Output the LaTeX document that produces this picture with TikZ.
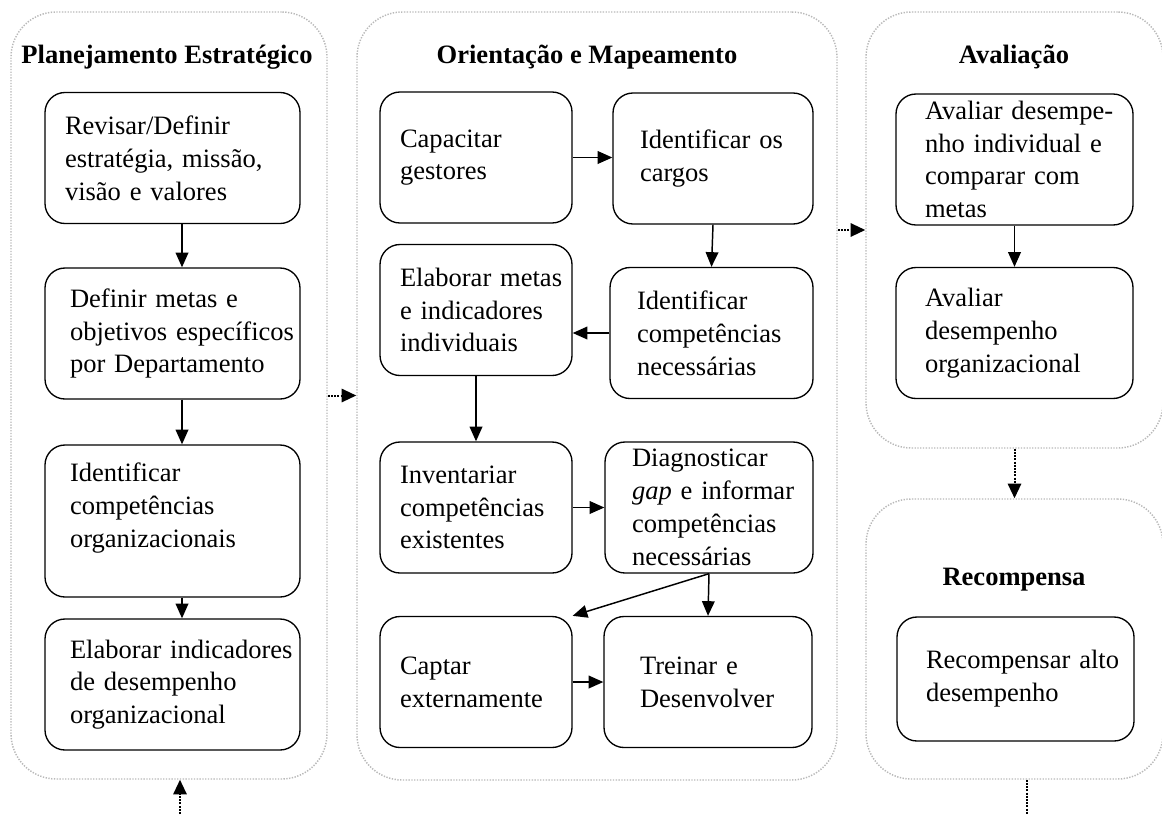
\documentclass[tikz,border=0pt]{standalone}
\usepackage{fontspec}
\setmainfont{Liberation Serif}
\usetikzlibrary{positioning}
\usetikzlibrary{arrows.meta}
\newcommand\eixoesq{182}
\tikzset{
    fase/.style = {draw=gray!55, line width=1.1pt, dash pattern=on 1pt off 1.1pt, rounded corners=34pt},
    caixa/.style = {draw, line width=1pt, rounded corners=15pt, align=left, inner ysep=2pt,
        font=\fontsize{19.9pt}{24.6pt}\selectfont, minimum height=98.25pt,
        execute at begin node={\hyphenpenalty=10000\exhyphenpenalty=10000}},
    esq/.style = {caixa, minimum width=191.25pt, text width=153.75pt, inner xsep=18.75pt},
    meio/.style = {caixa, minimum width=144pt, text width=114pt, inner xsep=15pt},
    meiodir/.style = {caixa, inner xsep=20.25pt},
    dir/.style = {caixa, minimum width=177.75pt, text width=134.25pt, inner xsep=21.75pt},
    titulo/.style = {anchor=base, font=\bfseries\fontsize{19.9pt}{24pt}\selectfont},
    seta/.style = {-{Triangle[length=11pt,width=9.5pt]}, line width=1.1pt},
    setapont/.style = {-{Triangle[length=11pt,width=10pt]}, line width=1.5pt, dash pattern=on 1.5pt off 0.9pt},
}
\begin{document}
\begin{tikzpicture}[x=0.75pt, y=-0.75pt]
    \useasboundingbox (0,0) rectangle (1162,814);
    % --- Fases
    \node[fase, minimum width=237pt, minimum height=575.25pt] (planej) at (169,395.5) {};
    \node[fase, minimum width=360pt, minimum height=576pt] (orient) at (597,396) {};
    \node[fase, minimum width=222.75pt, minimum height=327pt] (aval) at (1014.5,230) {};
    \node[fase, minimum width=222.75pt, minimum height=210pt] (recomp) at (1014.5,639) {};
    \node[titulo] (tplanej) at (167,63) {Planejamento Estratégico};
    \node[titulo] (torient) at (587,63) {Orientação e Mapeamento};
    \node[titulo] (taval) at (1014,63) {Avaliação};
    \node[titulo] (trecomp) at (1014,585) {Recompensa};
    % --- Planejamento
    \node[esq, text width=161.25pt, inner xsep=15pt] (revisar) at (172.5,158) {Revisar/Definir\\estratégia, missão,\\visão e valores};
    \node[esq] (metas) at (172.5,333.5) {Definir metas e\\objetivos~específicos\\por Departamento};
    \node[esq, minimum height=114pt, text depth=73pt] (compet) at (172.5,521) {Identificar\\competências\\organizacionais};
    \node[esq] (indic) at (172.5,684.5) {Elaborar~indicadores\\de desempenho\\organizacional};
    % --- Orientacao
    \node[meio] (capacitar) at (476,157.5) {Capacitar\\gestores};
    \node[meio] (elabmetas) at (476,310) {Elaborar~metas\\e indicadores\\individuais};
    \node[meio] (inventariar) at (476,507.5) {Inventariar\\competências\\existentes};
    \node[meio] (captar) at (476,682) {Captar\\externamente};
    \node[meiodir, minimum width=150pt, text width=109.5pt] (cargos) at (713,158.5) {Identificar os\\cargos};
    \node[meiodir, minimum width=152.25pt, text width=111.75pt] (compnec) at (711.5,333) {Identificar\\competências\\necessárias};
    \node[meiodir, minimum width=156pt, text width=115.5pt] (diagnost) at (709,507.5) {Diagnosticar\\\textit{gap}~e~informar\\competências\\necessárias};
    \node[meiodir, minimum width=156pt, text width=102pt, inner xsep=27pt] (treinar) at (708,682) {Treinar e\\Desenvolver};
    % --- Avaliacao e recompensa
    \node[dir] (avalind) at (1014.5,159.5) {Avaliar~desempe-\\nho individual e\\comparar com\\metas};
    \node[dir] (avalorg) at (1014.5,333) {Avaliar\\desempenho\\organizacional};
    \node[dir, minimum height=93pt] (recompensar) at (1015.5,679) {Recompensar~alto\\desempenho};
    % --- Setas
    \draw[seta] (revisar.south -| \eixoesq,0) -- (metas.north -| \eixoesq,0);
    \draw[seta] (metas.south -| \eixoesq,0) -- (compet.north -| \eixoesq,0);
    \draw[seta] (compet.south -| \eixoesq,0) -- (indic.north -| \eixoesq,0);
    \draw[seta] (capacitar.east) -- (cargos.west |- capacitar.east);
    \draw[seta] (cargos.south) -- (compnec.north);
    \draw[seta] (compnec.west) -- (elabmetas.east |- compnec.west);
    \draw[seta] (elabmetas.south) -- (inventariar.north);
    \draw[seta] (inventariar.east) -- (diagnost.west |- inventariar.east);
    \draw[seta] (diagnost.south) -- (captar.north east);
    \draw[seta] (diagnost.south) -- (treinar.north);
    \draw[seta] (captar.east) -- (treinar.west |- captar.east);
    \draw[seta] (avalind.south) -- (avalorg.north);
    % --- Setas entre fases
    \coordinate (entrada) at (180,814);
    \coordinate (saida) at (1027,814);
    \draw[setapont] (planej.east) -- (orient.west |- planej.east);
    \draw[setapont] (orient.east |- aval.west) -- (aval.west);
    \draw[setapont] (aval.south) -- (recomp.north);
    \draw[setapont] (entrada) -- (entrada |- planej.south);
    \draw[setapont, -] (saida |- recomp.south) -- (saida);
\end{tikzpicture}
\end{document}
